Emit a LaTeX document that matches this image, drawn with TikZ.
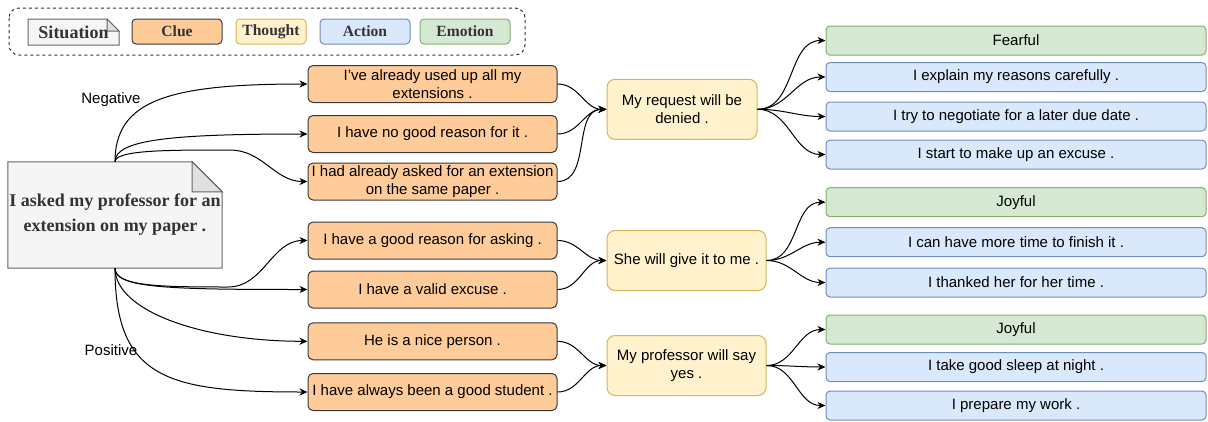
\documentclass[tikz,border=0pt]{standalone}
\usepackage{fontspec}
\setmainfont{Liberation Sans}
\newfontfamily\legendfont{Liberation Serif}
\usepackage{tikz}
\usetikzlibrary{arrows.meta,backgrounds,calc}

\definecolor{clueFill}{HTML}{FFCC99}
\definecolor{clueLine}{HTML}{36393D}
\definecolor{thoughtFill}{HTML}{FFF2CC}
\definecolor{thoughtLine}{HTML}{D6B656}
\definecolor{actFill}{HTML}{DAE8FC}
\definecolor{actLine}{HTML}{6C8EBF}
\definecolor{emoFill}{HTML}{D5E8D4}
\definecolor{emoLine}{HTML}{82B366}
\definecolor{sitFill}{HTML}{F5F5F5}
\definecolor{sitLine}{HTML}{666666}
\definecolor{sitText}{HTML}{333333}
\definecolor{foldFill}{HTML}{E0E0E0}

\tikzset{
  box/.style={draw, line width=1pt, inner sep=0pt, align=center,
    font=\fontsize{15}{18}\selectfont},
  clue/.style={box, fill=clueFill, draw=clueLine, rounded corners=5pt,
    minimum width=249pt, minimum height=37pt},
  thought/.style={box, fill=thoughtFill, draw=thoughtLine, rounded corners=8pt,
    minimum height=60pt},
  act/.style={box, fill=actFill, draw=actLine, rounded corners=4pt,
    minimum width=380pt, minimum height=29pt},
  emo/.style={act, fill=emoFill, draw=emoLine},
  lgd/.style={draw, line width=1pt, rounded corners=4pt, inner sep=0pt,
    minimum width=90pt, minimum height=25pt, text=sitText,
    font=\legendfont\bfseries\fontsize{15.6}{18}\selectfont},
  note/.style={fill=sitFill, draw=sitLine, line width=1pt},
  link/.style={draw=black, line width=1pt,
    -{Stealth[length=8pt,width=7pt,inset=2.5pt]}},
  lbl/.style={font=\fontsize{15}{18}\selectfont}
}

% folded corner for the situation boxes
\newcommand\foldnote[2]{%
  \draw[note] (#1.south west) -- (#1.north west) -- ($(#1.north east)+(-#2,0)$)
    -- ($(#1.north east)+(0,-#2)$) -- (#1.south east) -- cycle;
  \draw[note, fill=foldFill] ($(#1.north east)+(-#2,0)$) -- ($(#1.north east)+(-#2,-#2)$)
    -- ($(#1.north east)+(0,-#2)$) -- cycle;
}

\begin{document}
\begin{tikzpicture}[x=1pt,y=1pt]
\useasboundingbox (0,0) rectangle (1208,-421);

% legend
\draw[draw=sitText, line width=1pt, dash pattern=on 3pt off 3pt, rounded corners=10pt]
  (9,-8) rectangle (525,-55);
\node[lgd, draw=none, font=\legendfont\bfseries\fontsize{18}{20}\selectfont] (lsit) at (73.5,-32)
  {Situation\hspace{12pt}};
\node[lgd, fill=clueFill, draw=clueLine] (lclue) at (177,-31.5) {Clue};
\node[lgd, fill=thoughtFill, draw=thoughtLine, minimum width=70pt] (lthought) at (271,-31.5) {Thought};
\node[lgd, fill=actFill, draw=actLine] (lact) at (365,-31.5) {Action};
\node[lgd, fill=emoFill, draw=emoLine] (lemo) at (465,-31.5) {Emotion};

% situation
\node[minimum width=214pt, minimum height=106pt, inner sep=0pt, align=center, text=sitText,
  font=\legendfont\bfseries\fontsize{18}{25}\selectfont] (sit) at (115,-215)
  {I asked my professor for an\\extension on my paper .};
\begin{scope}[on background layer]
  \foldnote{sit}{30}
  \foldnote{lsit}{12}
\end{scope}

% clues
\node[clue] (c1) at (432.5,-84) {I've already used up all my\\extensions .};
\node[clue] (c2) at (432.5,-134) {I have no good reason for it .};
\node[clue] (c3) at (432.5,-181.5) {I had already asked for an extension\\on the same paper .};
\node[clue] (c4) at (432.5,-240.5) {I have a good reason for asking .};
\node[clue] (c5) at (432.5,-289.5) {I have a valid excuse .};
\node[clue] (c6) at (432.5,-341.3) {He is a nice person .};
\node[clue] (c7) at (432.5,-392) {I have always been a good student .};

% thoughts
\node[thought, minimum width=150pt] (t1) at (682,-109.3) {My request will be\\denied .};
\node[thought, minimum width=159pt] (t2) at (686.5,-260.5) {She will give it to me .};
\node[thought, minimum width=159pt] (t3) at (686.5,-365.5) {My professor will say\\yes .};

% actions and emotions
\node[emo] (r1) at (1016,-40.5) {Fearful};
\node[act] (r2) at (1016,-77) {I explain my reasons carefully .};
\node[act] (r3) at (1016,-116.5) {I try to negotiate for a later due date .};
\node[act] (r4) at (1016,-154.5) {I start to make up an excuse .};
\node[emo] (r5) at (1016,-202.2) {Joyful};
\node[act] (r6) at (1016,-242.2) {I can have more time to finish it .};
\node[act] (r7) at (1016,-282.5) {I thanked her for her time .};
\node[emo] (r8) at (1016,-329.5) {Joyful};
\node[act] (r9) at (1016,-367) {I take good sleep at night .};
\node[act] (r10) at (1016,-405.5) {I prepare my work .};

% situation to clues
\draw[link] (sit.north) .. controls +(0,62) and +(-138,0) .. (c1.west);
\draw[link] (sit.north) .. controls +(0,22) and +(-138,0) .. (c2.west);
\draw[link] (sit.north) .. controls +(0,12) and +(-60,0) .. (230,-150) to[out=0,in=180] (c3.west);
\draw[link] (sit.south) .. controls +(0,-18) and +(-70,0) .. (228,-287) to[out=0,in=180] (c4.west);
\draw[link] (sit.south) .. controls +(0,-20) and +(-138,0) .. (c5.west);
\draw[link] (sit.south) .. controls +(0,-42) and +(-108,0) .. (c6.west);
\draw[link] (sit.south) .. controls +(0,-112) and +(-138,0) .. (c7.west);
\node[lbl] (neg) at (111,-100) {Negative};
\node[lbl] (pos) at (111,-350) {Positive};

% clues to thoughts
\foreach \c in {c1,c2,c3} \draw[link] (\c.east) to[out=0,in=180] (t1.west);
\foreach \c in {c4,c5} \draw[link] (\c.east) to[out=0,in=180] (t2.west);
\foreach \c in {c6,c7} \draw[link] (\c.east) to[out=0,in=180] (t3.west);

% thoughts to reactions
\foreach \r in {r1,r2,r3,r4} \draw[link] (t1.east) to[out=0,in=180] (\r.west);
\foreach \r in {r5,r6,r7} \draw[link] (t2.east) to[out=0,in=180] (\r.west);
\foreach \r in {r8,r9,r10} \draw[link] (t3.east) to[out=0,in=180] (\r.west);
\end{tikzpicture}
\end{document}
